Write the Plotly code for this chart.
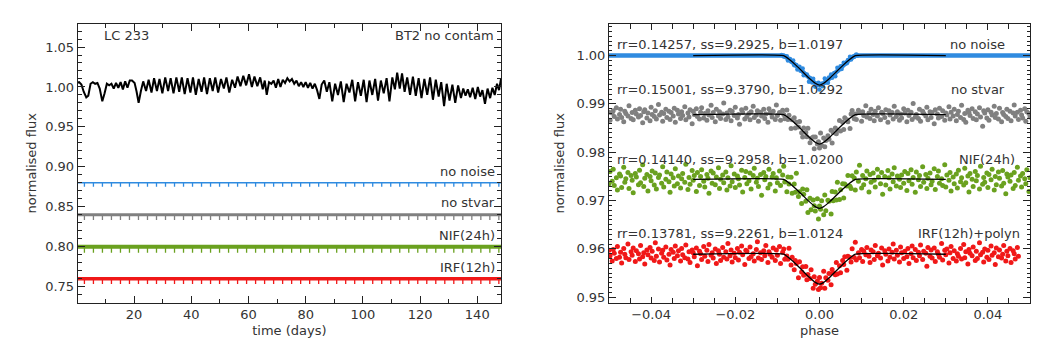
import plotly.graph_objects as go
import numpy as np

W, H = 1063, 354

# ---------------- left panel data ----------------
LC_DAY = [0.0,0.8,1.6,2.4,3.3,4.0,4.8,5.6,6.4,7.2,8.0,8.9,9.7,10.5,11.3,12.1,12.9,13.7,14.5,15.3,16.1,16.9,17.7,18.5,19.3,20.2,20.9,21.6,22.4,
          23.2,24.2,25.1,26.1,27.0,28.0,28.9,29.9,30.9,31.9,32.8,33.8,34.8,35.8,36.7,37.7,38.7,39.7,40.6,41.6,42.6,43.6,44.5,45.5,46.5,47.5,48.4,49.4,
          50.4,51.4,52.3,53.3,54.3,55.3,56.2,57.2,58.2,59.2,60.2,61.2,62.1,63.1,64.1,65.0,65.7,66.4,67.2,68.0,68.8,69.6,70.4,71.2,72.0,72.8,73.6,74.4,
          75.2,76.0,76.8,77.6,78.4,79.2,80.0,80.8,81.6,82.4,83.2,84.0,84.8,85.6,86.5,87.4,88.3,89.3,90.3,91.3,92.3,93.3,94.3,95.3,96.3,97.3,98.3,99.3,
          100.3,101.3,102.3,103.3,104.3,105.3,106.3,107.3,108.3,109.3,110.3,111.2,112.0,112.9,113.7,114.6,115.5,116.5,117.5,118.5,119.5,120.5,121.5,
          122.5,123.5,124.5,125.5,126.5,127.4,128.4,129.3,130.3,131.3,132.3,133.3,134.3,135.1,135.9,136.7,137.5,138.4,139.3,140.2,141.0,141.8,142.7,
          143.6,144.5,145.3,146.1,146.9,147.6,148.3]
LC_FLUX = [1.005,1.006,1.003,0.994,0.987,0.989,1.004,1.006,1.004,1.005,0.998,0.982,0.992,1.004,1.002,1.004,0.998,1.005,0.999,1.006,0.997,1.007,0.999,1.008,1.008,1.005,0.994,0.980,0.995,
           1.007,0.995,1.009,0.993,1.011,0.995,1.010,0.992,1.012,0.995,1.011,0.992,1.012,0.994,1.012,0.991,1.011,0.993,1.012,0.990,1.010,0.994,1.012,0.991,1.011,0.995,1.012,0.993,
           1.010,0.998,1.012,0.993,1.009,0.999,1.013,1.001,1.014,1.002,1.016,1.000,1.013,1.001,1.012,0.997,1.008,0.990,1.006,1.004,1.008,0.999,1.010,1.000,1.009,1.005,1.011,1.007,
           1.010,1.004,1.008,1.001,1.006,1.000,1.006,0.999,1.005,0.998,1.004,0.996,0.985,1.003,1.008,0.994,1.006,0.982,1.004,0.990,1.007,0.981,1.004,0.993,1.009,0.982,1.006,0.989,
           1.009,0.981,1.008,0.990,1.010,0.983,1.008,0.992,1.011,0.982,1.012,0.997,1.018,0.998,1.017,0.994,1.012,0.990,1.013,0.989,1.011,0.986,1.010,
           0.990,1.012,0.984,1.009,0.988,1.006,0.976,1.004,0.983,1.003,0.980,1.002,0.986,0.998,0.989,0.997,0.987,0.999,0.985,1.000,0.988,0.996,0.979,
           0.998,0.986,0.999,0.990,1.004,0.996,1.010]

EPOCHS = [2.65,5.80,8.95,12.10,15.25,18.40,21.55,24.70,27.85,31.00,34.15,37.30,40.45,43.60,46.75,49.90,53.05,56.20,59.35,62.50,
          65.65,68.80,71.95,75.10,78.25,81.40,84.55,87.70,90.85,94.00,97.15,100.30,103.45,106.60,109.75,112.90,116.05,119.20,
          122.35,125.50,128.65,131.80,134.95,138.10,141.25,144.40,147.55]

LEFT_NAMES = ["no noise", "no stvar", "NIF(24h)", "IRF(12h)"]
LEFT_BASE = [0.880, 0.840, 0.800, 0.760]
LEFT_DEPTH = [0.005, 0.0065, 0.0075, 0.0065]
LEFT_WIDTH = [1.5, 3.0, 4.0, 3.5]

# ---------------- right panel data ----------------
MODEL_PH = [-0.03,-0.0085,-0.007,-0.0055,-0.004,-0.0025,-0.001,0.0,0.001,0.0025,0.004,0.0055,0.007,0.0085,0.03]
MODEL_FRAC = [0,0,0.15,0.34,0.55,0.76,0.94,1.0,0.94,0.76,0.55,0.34,0.15,0,0]

RIGHT_NAMES = ["no noise", "no stvar", "NIF(24h)", "IRF(12h)+polyn"]
RIGHT_FIT = ["rr=0.14257, ss=9.2925, b=1.0197", "rr=0.15001, ss=9.3790, b=1.0292",
             "rr=0.14140, ss=9.2958, b=1.0200", "rr=0.13781, ss=9.2261, b=1.0124"]
RIGHT_BASE = [1.0000, 0.9878, 0.9744, 0.9589]
RIGHT_DEPTH = [0.0061, 0.0061, 0.0060, 0.0062]

# phases in units of 0.00025
PH = [-200,-199,-197,-196,-195,-193,-192,-190,-189,-188,-186,-185,-184,-182,-181,-179,-178,-177,-175,-174,-172,-171,-170,-168,-167,-166,-164,-163,-161,-160,
      -159,-157,-156,-155,-153,-152,-150,-149,-148,-146,-145,-143,-142,-141,-139,-138,-137,-135,-134,-132,-131,-130,-128,-127,-125,-124,-123,-121,-120,-119,
      -117,-116,-114,-113,-112,-110,-109,-107,-106,-105,-103,-102,-101,-99,-98,-96,-95,-94,-92,-91,-89,-88,-87,-85,-84,-83,-81,-80,-78,-77,-76,-74,-73,-71,
      -70,-69,-67,-66,-65,-63,-62,-60,-59,-58,-56,-55,-53,-52,-51,-49,-48,-47,-45,-44,-42,-41,-40,-38,-37,-35,-34,-33,-31,-30,-29,-27,-26,-24,-23,-22,-20,
      -19,-17,-16,-15,-13,-12,-11,-9,-8,-6,-5,-4,-2,-1,0,1,2,4,5,6,8,9,11,12,13,15,16,17,19,20,22,23,24,26,27,29,30,31,33,34,35,37,38,40,41,42,44,45,47,48,
      49,51,52,53,55,56,58,59,60,62,63,65,66,67,69,70,71,73,74,76,77,78,80,81,83,84,85,87,88,89,91,92,94,95,96,98,99,101,102,103,105,106,107,109,110,112,113,
      114,116,117,119,120,121,123,124,125,127,128,130,131,132,134,135,137,138,139,141,142,143,145,146,148,149,150,152,153,155,156,157,159,160,161,163,164,166,
      167,168,170,171,173,174,175,177,178,179,181,182,184,185,186,188,189,191,192,193,195,196,197,199,200]

# residuals in units of 1e-4
RES_STVAR = [5,-12,3,8,-4,14,-9,0,11,-6,-15,7,2,-3,18,-8,4,-11,9,1,-5,12,-2,-17,6,10,-7,3,-13,15,0,-4,8,-9,21,-1,5,-14,2,11,-6,7,-10,4,-3,13,-16,9,1,-8,
             6,-2,16,-11,3,-5,10,-19,7,0,12,-4,-9,5,14,-7,2,-12,8,-1,19,-6,4,-15,11,-3,6,-8,1,24,-10,3,-5,9,-13,7,-2,15,-7,0,-20,10,4,-9,13,-4,2,-11,6,17,
             -6,-1,8,-14,5,-3,11,-8,1,-16,12,3,-5,7,-10,20,-2,4,-12,9,0,-7,14,-4,6,-18,2,10,-9,5,-1,13,-6,-13,8,3,-4,16,-10,1,7,-15,11,-2,4,-8,22,-5,9,-11,
             0,6,-3,12,-17,3,8,-6,-1,15,-9,5,-12,10,2,-4,-21,7,13,-7,1,-10,9,4,-14,6,-2,18,-5,3,-8,11,0,-13,7,-3,14,-11,5,2,-6,10,-16,8,-1,4,-9,17,-4,6,-12,
             1,-7,12,3,-15,9,-2,5,-10,23,-5,0,-8,11,-14,7,2,-3,15,-11,6,-6,4,-19,10,1,-7,13,-4,8,-12,3,-1,16,-9,5,-3,11,-13,0,7,-6,19,-10,2,-16,9,4,-2,12,
             -8,6,-11,1,14,-5,-24,8,3,-7,10,-12,5,-1,17,-6,2,-9,13,-15,4,0,-4,11,-8,7,-13,3,20,-3,5,-10,9,-1,-7,12,-14,6,2,-5,15,-9]
RES_NIF = [-9,16,-4,21,-13,3,-22,11,7,-17,25,-6,1,14,-19,8,-2,-28,12,5,-11,19,-7,30,-15,2,10,-24,6,-3,17,-12,13,-20,4,9,-8,26,-16,0,15,-5,-27,11,3,-14,22,-9,
           7,-18,1,12,-6,31,-21,4,-10,18,-2,8,-25,14,-13,6,20,-4,-16,10,2,-29,17,-8,13,-11,5,24,-19,0,9,-7,15,-22,3,-14,28,-5,11,-17,7,1,-12,19,-26,4,16,-9,
           -3,13,-20,8,23,-6,2,-15,10,-33,14,-1,6,-18,21,-10,5,12,-24,3,-7,17,-13,9,27,-4,-21,11,-2,15,-16,7,-8,33,-11,1,-19,13,4,-6,20,-25,8,-14,10,0,-9,18,
           -23,5,-3,14,-17,22,-12,6,2,-28,16,-5,9,-10,25,-15,3,11,-20,7,-1,19,-7,-13,12,4,-22,15,-4,29,-18,8,-11,1,17,-26,10,-6,13,-2,-16,21,5,-9,14,-31,6,
           -12,18,3,-20,11,-5,24,-14,7,0,-17,9,-8,16,-23,12,-3,20,-10,4,-27,15,-1,8,-15,26,-6,10,-19,2,13,-11,-4,22,-21,6,17,-8,1,-13,30,-16,9,-2,14,-24,5,
           -9,11,-18,19,-5,3,-12,23,-7,7,-26,12,0,-15,16,-3,8,-20,27,-10,4,-6,13,-17,10,-1,21,-22,6,-11,15,2,-14,18,-8,-30,11,5,-4,9,-19,14,-13,25,-2,7,-16,
           12,1,-9,20,-25,3]
RES_IRF = [8,-3,-14,10,2,-9,16,-6,4,-18,12,0,-7,21,-11,5,-2,13,-15,7,1,-10,18,-5,3,-20,9,-1,14,-8,6,-13,24,-4,11,-16,2,8,-6,15,-12,0,-22,10,4,-9,17,-3,7,
           -14,12,-1,-7,19,-10,5,-17,9,3,-5,13,-24,6,1,-11,16,-4,8,-15,20,-2,3,-8,11,-19,7,0,-13,14,-6,5,-10,22,-3,9,-16,2,-7,12,-12,4,17,-1,-21,8,6,-9,15,
           -5,1,-14,10,26,-8,3,-11,7,-3,18,-17,5,0,-6,13,-13,9,-2,16,-19,4,11,-9,1,-4,20,-11,7,-15,6,2,-23,12,-5,8,-7,15,-10,3,-1,19,-16,10,-4,5,-12,14,-8,0,
           23,-14,6,-3,9,-18,11,2,-6,17,-9,4,-13,8,-2,12,-20,7,1,-10,16,-5,25,-12,3,-7,10,-15,6,-1,14,-4,-17,9,5,-11,18,-3,2,-8,13,-22,7,0,-14,11,-6,4,21,-10,
           8,-2,-16,15,3,-9,6,-5,12,-19,1,17,-7,10,-13,4,-3,19,-11,6,2,-25,14,-4,9,-8,13,-15,5,0,-6,22,-12,8,-1,11,-18,3,16,-9,7,-14,1,-4,12,-10,20,-7,5,-20,
           10,2,-3,15,-13,6,-9,24,-1,4,-16,11,-6,8,-11,17,-2,3,-21,13,-5,9,-8,0,18,-14,6,-3,12,-17,7,1,-10,14,-4]

# "no noise" in-transit points (phase units 0.00025, residual units 1e-4)
NN_PH = [-36,-34,-33,-31,-30,-28,-27,-25,-24,-22,-21,-19,-18,-16,-15,-13,-12,-10,-9,-7,-6,-4,-3,-1,0,2,3,5,6,8,9,11,12,14,15,17,18,20,21,23,24,26,27,29,30,32,33,35,36]
NN_RES = [1,-2,0,3,-4,2,-1,5,-3,1,-6,4,-2,7,-5,0,3,-8,2,-4,6,-7,-3,4,-9,1,-5,8,-2,-6,3,5,-4,2,-7,6,-1,3,-5,4,0,-3,2,5,-2,1,-1,2,0]

COLORS = ["#2f8be0", "#808080", "#6aa11f", "#f01818"]
TXT = "#333333"
FONT = "DejaVu Sans"

fig = go.Figure()

# left panel
fig.add_trace(go.Scatter(x=LC_DAY, y=LC_FLUX, mode="lines", line=dict(color="black", width=2),
                         xaxis="x", yaxis="y", showlegend=False))
for name, base, depth, lw, col in zip(LEFT_NAMES, LEFT_BASE, LEFT_DEPTH, LEFT_WIDTH, COLORS):
    fig.add_trace(go.Scatter(x=[0.0, 148.3], y=[base, base], mode="lines", line=dict(color=col, width=lw),
                             xaxis="x", yaxis="y", showlegend=False, name=name))
    xs, ys = [], []
    for t in EPOCHS:
        xs += [t, t, None]
        ys += [base, base - depth, None]
    fig.add_trace(go.Scatter(x=xs, y=ys, mode="lines", line=dict(color=col, width=1.3),
                             xaxis="x", yaxis="y", showlegend=False))

# right panel
def model(ph, base, depth):
    return base - depth * np.interp(ph, MODEL_PH, MODEL_FRAC)

full_ph = [-0.05] + MODEL_PH + [0.05]
fig.add_trace(go.Scatter(x=full_ph, y=model(np.array(full_ph), RIGHT_BASE[0], RIGHT_DEPTH[0]), mode="lines",
                         line=dict(color=COLORS[0], width=4.5), xaxis="x2", yaxis="y2", showlegend=False))
nn_ph = np.array(NN_PH) * 0.00025
fig.add_trace(go.Scatter(x=nn_ph, y=model(nn_ph, RIGHT_BASE[0], RIGHT_DEPTH[0]) + np.array(NN_RES) * 1e-4,
                         mode="markers", marker=dict(color=COLORS[0], size=4.5),
                         xaxis="x2", yaxis="y2", showlegend=False))

ph = np.array(PH) * 0.00025
for res, base, depth, col in zip([RES_STVAR, RES_NIF, RES_IRF], RIGHT_BASE[1:], RIGHT_DEPTH[1:], COLORS[1:]):
    n = min(len(ph), len(res))
    p = ph[:n]
    fig.add_trace(go.Scatter(x=p, y=model(p, base, depth) + np.array(res[:n]) * 1e-4,
                             mode="markers", marker=dict(color=col, size=5),
                             xaxis="x2", yaxis="y2", showlegend=False))

for base, depth in zip(RIGHT_BASE, RIGHT_DEPTH):
    mp = np.array(MODEL_PH)
    fig.add_trace(go.Scatter(x=mp, y=model(mp, base, depth), mode="lines",
                             line=dict(color="black", width=1.3, shape="spline", smoothing=0.4),
                             xaxis="x2", yaxis="y2", showlegend=False))

# axes
def px_x(px): return px / W
def px_y(py): return 1 - py / H

ydom = [px_y(304.3), px_y(24.3)]
axis_common = dict(showline=True, linecolor="#222", linewidth=1, mirror="ticks", ticks="inside",
                   tickcolor="#222", showgrid=False, zeroline=False,
                   tickfont=dict(family=FONT, size=13, color=TXT))

fig.update_layout(
    width=W, height=H, margin=dict(l=0, r=0, t=0, b=0),
    paper_bgcolor="white", plot_bgcolor="white",
    xaxis=dict(domain=[px_x(77.7), px_x(501)], range=[0.3, 148.3], dtick=20, tick0=0, ticklen=7,
               minor=dict(dtick=10, ticklen=4, ticks="inside", tickcolor="#222"),
               title=dict(text="time (days)", font=dict(family=FONT, size=13, color=TXT), standoff=4),
               anchor="y", **axis_common),
    yaxis=dict(domain=ydom, range=[0.7301, 1.0786], dtick=0.05, tick0=0, ticklen=7, tickformat=".2f",
               minor=dict(dtick=0.01, ticklen=4, ticks="inside", tickcolor="#222"),
               title=dict(text="normalised flux", font=dict(family=FONT, size=13, color=TXT), standoff=5),
               anchor="x", **axis_common),
    xaxis2=dict(domain=[px_x(609), px_x(1030)], range=[-0.05, 0.05], dtick=0.02, tick0=0, ticklen=6,
                tickformat=".2f",
                minor=dict(dtick=0.005, ticklen=5, ticks="inside", tickcolor="#222"),
                title=dict(text="phase", font=dict(family=FONT, size=13, color=TXT), standoff=4),
                anchor="y2", **axis_common),
    yaxis2=dict(domain=ydom, range=[0.9489, 1.0065], dtick=0.01, tick0=0, ticklen=7, tickformat=".2f",
                minor=dict(dtick=0.001, ticklen=3, ticks="inside", tickcolor="#222"),
                title=dict(text="normalised flux", font=dict(family=FONT, size=13, color=TXT), standoff=8),
                anchor="x2", **axis_common),
)

ann = []
def add_text(text, px, py, anchor):
    ann.append(dict(text=text, x=px_x(px), y=px_y(py), xref="paper", yref="paper", xanchor=anchor,
                    yanchor="middle", showarrow=False, font=dict(family=FONT, size=13, color=TXT)))

add_text("LC 233", 101.7, 36, "left")
add_text("BT2 no contam", 496, 36, "right")
for name, py in zip(LEFT_NAMES, [172.7, 203.3, 236.7, 269]):
    add_text(name, 497, py, "right")
for fit, name, py, rx in zip(RIGHT_FIT, RIGHT_NAMES, [45, 90, 160.7, 235], [1007, 1007, 1017, 1022]):
    add_text(fit, 615, py, "left")
    add_text(name, rx, py, "right")
fig.update_layout(annotations=ann)

fig.write_html("out.html", config={"displayModeBar": False},
               post_script="document.body.style.margin='0';document.body.style.overflow='hidden';")
